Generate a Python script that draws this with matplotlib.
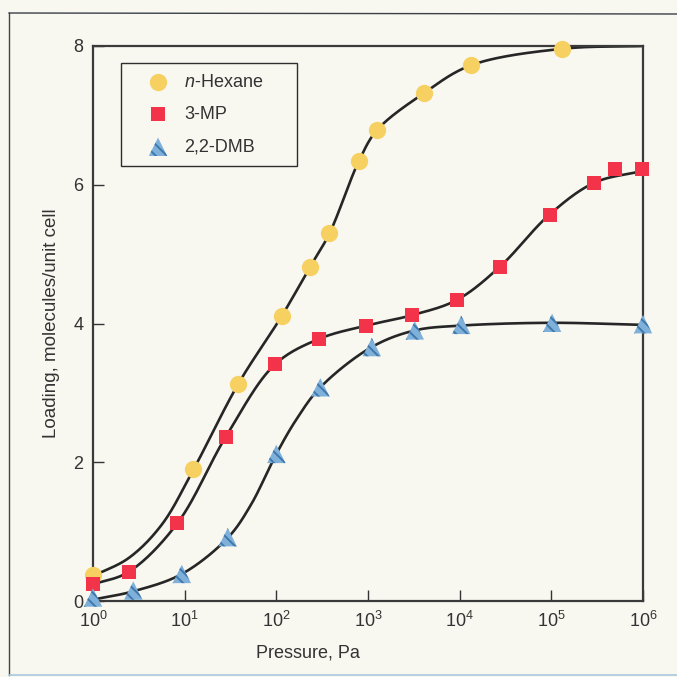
import numpy as np
import matplotlib.pyplot as plt
from matplotlib.lines import Line2D

# Colours / fonts
BG = '#f8f7f0'
INK = '#333333'
plt.rcParams['font.family'] = ['Liberation Sans', 'DejaVu Sans']
plt.rcParams['mathtext.fontset'] = 'custom'
plt.rcParams['mathtext.rm'] = 'Liberation Sans'
plt.rcParams['mathtext.it'] = 'Liberation Sans:italic'
plt.rcParams['hatch.color'] = '#3f78ad'
plt.rcParams['hatch.linewidth'] = 1.4

# Measured points (pressure in Pa, loading in molecules/unit cell)
hex_p = [1.0, 12.4, 38.5, 115, 234, 380, 794, 1260, 4070, 13200, 132000]
hex_q = [0.37, 1.90, 3.13, 4.11, 4.82, 5.30, 6.34, 6.79, 7.32, 7.72, 7.96]

mp_p = [1.0, 2.45, 8.3, 28.2, 96.6, 295, 955, 2990, 9330, 27500, 95500, 295000, 500000, 980000]
mp_q = [0.25, 0.42, 1.12, 2.37, 3.41, 3.78, 3.97, 4.12, 4.34, 4.82, 5.57, 6.03, 6.23, 6.22]

dmb_p = [1.0, 2.75, 9.3, 29.5, 100, 302, 1100, 3240, 10400, 102000, 1000000]
dmb_q = [0.05, 0.15, 0.39, 0.92, 2.12, 3.08, 3.66, 3.90, 3.98, 4.01, 3.99]

# Fitted curves: log10(pressure) and loading at knots
hex_curve_lp = [0.0, 0.39, 0.75, 1.094, 1.585, 2.06, 2.37, 2.58, 2.90, 3.10, 3.61, 4.12, 5.12, 6.0]
hex_curve_q = [0.36, 0.62, 1.10, 1.89, 3.13, 4.11, 4.82, 5.30, 6.34, 6.79, 7.32, 7.72, 7.96, 8.0]

mp_curve_lp = [0.0, 0.39, 0.92, 1.45, 1.985, 2.47, 2.98, 3.48, 3.97, 4.44, 4.98, 5.47, 6.0]
mp_curve_q = [0.24, 0.42, 1.12, 2.37, 3.41, 3.78, 3.97, 4.12, 4.34, 4.82, 5.57, 6.03, 6.20]

dmb_curve_lp = [0.0, 0.44, 0.97, 1.47, 1.72, 2.0, 2.22, 2.48, 3.04, 3.51, 4.02, 5.0, 6.0]
dmb_curve_q = [0.02, 0.14, 0.39, 0.91, 1.38, 2.12, 2.62, 3.08, 3.66, 3.90, 3.97, 4.01, 3.98]

labels = ['$n$-Hexane', '3-MP', '2,2-DMB']


def smooth_curve(lp, q, n=30):
    # centripetal Catmull-Rom through the read knots, in pixel-like units
    sx, sy = 91.7, 69.2
    P = np.column_stack([np.asarray(lp, float) * sx, np.asarray(q, float) * sy])
    P = np.vstack([2 * P[0] - P[1], P, 2 * P[-1] - P[-2]])
    segs = []
    for i in range(1, len(P) - 2):
        p0, p1, p2, p3 = P[i - 1], P[i], P[i + 1], P[i + 2]
        t0 = 0.0
        t1 = t0 + np.linalg.norm(p1 - p0) ** 0.5
        t2 = t1 + np.linalg.norm(p2 - p1) ** 0.5
        t3 = t2 + np.linalg.norm(p3 - p2) ** 0.5
        t = np.linspace(t1, t2, n)[:, None]
        a1 = (t1 - t) / (t1 - t0) * p0 + (t - t0) / (t1 - t0) * p1
        a2 = (t2 - t) / (t2 - t1) * p1 + (t - t1) / (t2 - t1) * p2
        a3 = (t3 - t) / (t3 - t2) * p2 + (t - t2) / (t3 - t2) * p3
        b1 = (t2 - t) / (t2 - t0) * a1 + (t - t0) / (t2 - t0) * a2
        b2 = (t3 - t) / (t3 - t1) * a2 + (t - t1) / (t3 - t1) * a3
        segs.append((t2 - t) / (t2 - t1) * b1 + (t - t1) / (t2 - t1) * b2)
    C = np.vstack(segs)
    return 10 ** (C[:, 0] / sx), C[:, 1] / sy


fig = plt.figure(figsize=(6.77, 6.77), dpi=100, facecolor=BG)
ax = fig.add_axes([93 / 677, 1 - 601 / 677, 550 / 677, 555 / 677])
ax.set_facecolor(BG)

# outer frame of the figure
fig.add_artist(Line2D([9 / 677, 9 / 677], [2 / 677, 1 - 13 / 677], color='#444444', lw=1.0))
fig.add_artist(Line2D([9 / 677, 1.0], [1 - 13 / 677, 1 - 14 / 677], color='#3a3f48', lw=1.0))
fig.add_artist(Line2D([9 / 677, 1.0], [2 / 677, 2 / 677], color='#a9c7de', lw=1.2))

for lp, q in ((hex_curve_lp, hex_curve_q), (mp_curve_lp, mp_curve_q),
              (dmb_curve_lp, dmb_curve_q)):
    cx, cy = smooth_curve(lp, q)
    ax.plot(cx, cy, color='#262626', lw=1.9, solid_capstyle='butt', zorder=2)

ax.scatter(hex_p, hex_q, s=155, marker='o', color='#f6d162', linewidths=0,
           zorder=3, clip_on=False, label=labels[0])
ax.scatter(mp_p, mp_q, s=105, marker='s', color='#f23349', linewidths=0,
           zorder=3, clip_on=False, label=labels[1])
ax.scatter(dmb_p, dmb_q, s=175, marker='^', color='#7fb0da', edgecolors='#3f78ad',
           linewidths=0, hatch='\\\\\\', zorder=3, clip_on=False, label=labels[2])

ax.set_xscale('log')
ax.set_xlim(1, 1e6)
ax.set_ylim(0, 8)
ax.set_xticks([1e0, 1e1, 1e2, 1e3, 1e4, 1e5, 1e6])
ax.xaxis.set_minor_locator(plt.NullLocator())
ax.set_yticks([0, 2, 4, 6, 8])

ax.tick_params(direction='in', length=8, width=1.0, color=INK, labelcolor=INK,
               labelsize=13, pad=7, top=False, right=False)
for sp in ax.spines.values():
    sp.set_color('#3a3a3a')
    sp.set_linewidth(1.6)

ax.set_xlabel('Pressure, Pa', fontsize=13, color=INK)
ax.set_ylabel('Loading, molecules/unit cell', fontsize=13.5, color=INK)
ax.xaxis.set_label_coords((308 - 93) / 550, (601 - 645) / 555)
ax.yaxis.set_label_coords((60 - 93) / 550, (601 - 323) / 555)

leg = ax.legend(loc='upper left', bbox_to_anchor=(28 / 550, 538 / 555, 176 / 550, 0.0),
                mode='expand', fontsize=13, frameon=True, fancybox=False,
                borderpad=0.6, handlelength=2.9, handletextpad=0.0,
                labelspacing=0.85, borderaxespad=0.0, scatterpoints=1)
leg.get_frame().set_edgecolor('#2e2e2e')
leg.get_frame().set_linewidth(1.0)
leg.get_frame().set_facecolor(BG)
leg.get_frame().set_alpha(1.0)
for t in leg.get_texts():
    t.set_color(INK)

plt.savefig('out.png', dpi=100, facecolor=BG)
